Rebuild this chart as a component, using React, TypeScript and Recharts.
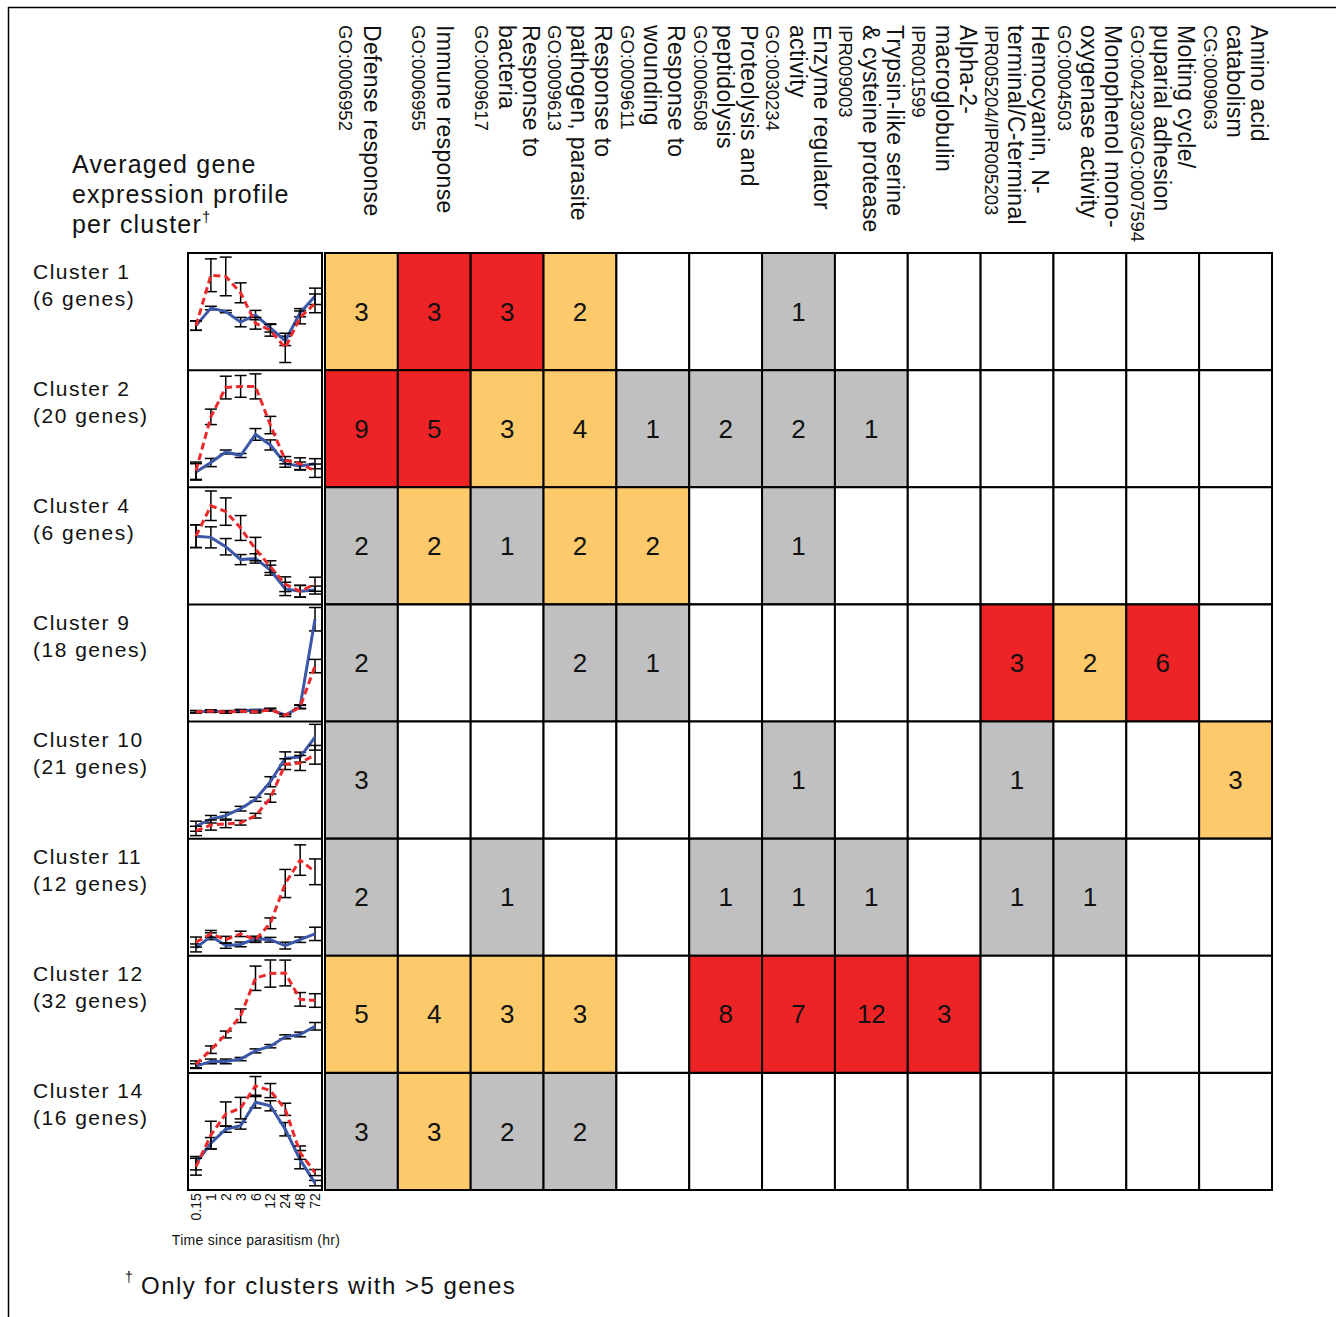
import React from "react";
import { BarChart, Bar, XAxis, YAxis, Cell, LabelList, LineChart, Line, ErrorBar } from "recharts";

const FONT = '"Liberation Sans", Arial, Helvetica, sans-serif';

// ---------- data ----------
const timePoints = ["0.15", "1", "2", "3", "6", "12", "24", "48", "72"];

const clusterNames = ["Cluster 1", "Cluster 2", "Cluster 4", "Cluster 9", "Cluster 10", "Cluster 11", "Cluster 12", "Cluster 14"];
const clusterSizes = ["(6 genes)", "(20 genes)", "(6 genes)", "(18 genes)", "(21 genes)", "(12 genes)", "(32 genes)", "(16 genes)"];

// averaged profiles (relative expression, 0-100 of panel height), blue solid series
const solidMeans = [
  [38, 53, 50, 41, 47, 36, 25, 49, 63],
  [13, 21, 30, 27, 45, 36, 20, 18, 20],
  [58, 57, 49, 38, 39, 29, 13, 11, 12],
  [8, 8.5, 8, 9, 9, 10, 5, 12.5, 87],
  [11, 17, 20, 26, 34, 49, 69, 70, 87],
  [7, 17, 9, 10, 15, 14, 9, 14, 19],
  [6, 10, 10, 12, 19, 23, 31, 33, 40],
  [23, 40, 52, 55, 75, 72, 52, 26, 6],
];
const solidErrs = [
  [4, 1.5, 1, 4, 4, 3.5, 4, 3.5, 7],
  [7, 3.5, 1.7, 1.7, 5, 4.3, 3, 3.4, 4.3],
  [9.7, 9, 7, 4.3, 4, 4.3, 5.7, 5, 3.4],
  [1, 1, 1, 1, 1, 1, 1, 1.5, 10],
  [4.3, 3.2, 2.9, 2, 1.7, 4.3, 5.5, 4.3, 11],
  [3.4, 2.9, 2.3, 2, 2, 2, 2.9, 2.3, 5.7],
  [2, 2, 2, 1.4, 1.7, 1.4, 1.7, 2, 3.2],
  [5.7, 4.9, 2.6, 2.9, 4.9, 4.3, 5.7, 7.8, 2.3],
];
// red dashed series
const dashedMeans = [
  [38, 81, 80, 66, 40, 34, 19, 45, 57],
  [14, 60, 85, 86, 86, 53, 23, 20, 14],
  [58, 84, 79, 65, 47, 32, 17, 11, 17],
  [8, 8.5, 7.7, 8.5, 8, 9.7, 5, 12, 47],
  [7, 12, 13, 14, 20, 35, 64, 65, 72],
  [12, 19, 14, 19, 14, 28, 62, 82, 72],
  [7.5, 20, 33, 49, 81, 85, 85.5, 63, 62],
  [20, 47, 65, 70, 89, 85, 69, 32, 15],
];
const dashedErrs = [
  [4, 14, 16.5, 8.5, 5, 5, 12.5, 5.5, 8],
  [7.4, 6.6, 9.7, 9.3, 10.7, 7.4, 3.1, 5, 5.7],
  [9.7, 12.6, 11.7, 10.6, 10, 5, 6.3, 5, 6],
  [1, 1, 1, 1, 1, 1, 1, 1.5, 5.7],
  [4, 4.3, 3.2, 2, 2, 3.5, 4.6, 6.4, 8],
  [4.3, 2.9, 2.9, 2.3, 2.3, 4.6, 12, 13, 11],
  [2.9, 3.2, 2.9, 5.8, 10.4, 11.6, 11, 5.8, 5.8],
  [7.2, 11.8, 10.3, 9.2, 8, 6, 5.2, 5.7, 2.6],
];

const goTermLines = [
  ["Defense response", "GO:0006952"],
  ["Immune response", "GO:0006955"],
  ["Response to", "bacteria", "GO:0009617"],
  ["Response to", "pathogen, parasite", "GO:0009613"],
  ["Response to", "wounding", "GO:0009611"],
  ["Proteolysis and", "peptidolysis", "GO:0006508"],
  ["Enzyme regulator", "activity", "GO:0030234"],
  ["Trypsin-like serine", "& cysteine protease", "IPR009003"],
  ["Alpha-2-", "macroglobulin", "IPR001599"],
  ["Hemocyanin, N-", "terminal/C-terminal", "IPR005204/IPR005203"],
  ["Monophenol mono-", "oxygenase activity", "GO:0004503"],
  ["Molting cycle/", "puparial adhesion", "GO:0042303/GO:0007594"],
  ["Amino acid", "catabolism", "CG:0009063"],
];

const termCounts = [
  [3, 3, 3, 2, 0, 0, 1, 0, 0, 0, 0, 0, 0],
  [9, 5, 3, 4, 1, 2, 2, 1, 0, 0, 0, 0, 0],
  [2, 2, 1, 2, 2, 0, 1, 0, 0, 0, 0, 0, 0],
  [2, 0, 0, 2, 1, 0, 0, 0, 0, 3, 2, 6, 0],
  [3, 0, 0, 0, 0, 0, 1, 0, 0, 1, 0, 0, 3],
  [2, 0, 1, 0, 0, 1, 1, 1, 0, 1, 1, 0, 0],
  [5, 4, 3, 3, 0, 8, 7, 12, 3, 0, 0, 0, 0],
  [3, 3, 2, 2, 0, 0, 0, 0, 0, 0, 0, 0, 0],
];
// 0 = none, 1 = gray, 2 = orange, 3 = red
const termLevels = [
  [2, 3, 3, 2, 0, 0, 1, 0, 0, 0, 0, 0, 0],
  [3, 3, 2, 2, 1, 1, 1, 1, 0, 0, 0, 0, 0],
  [1, 2, 1, 2, 2, 0, 1, 0, 0, 0, 0, 0, 0],
  [1, 0, 0, 1, 1, 0, 0, 0, 0, 3, 2, 3, 0],
  [1, 0, 0, 0, 0, 0, 1, 0, 0, 1, 0, 0, 2],
  [1, 0, 1, 0, 0, 1, 1, 1, 0, 1, 1, 0, 0],
  [2, 2, 2, 2, 0, 3, 3, 3, 3, 0, 0, 0, 0],
  [1, 2, 1, 1, 0, 0, 0, 0, 0, 0, 0, 0, 0],
];
const levelColors = ["#FFFFFF", "#C0C0C0", "#FCCA6A", "#EE2326"];

// ---------- layout ----------
const ROW_TOP = 253;
const ROWS = clusterNames.length;
const HEAT_H = 937;
const ROW_H = HEAT_H / ROWS;
const HEAT_LEFT = 325;
const HEAT_W = 947;
const COLS = goTermLines.length;
const COL_W = HEAT_W / COLS;
const PANEL_LEFT = 188;
const PANEL_W = 134;
const BLUE = "#3B57A7";
const RED = "#EC2A2C";

const heatRows = clusterNames.map((name, r) => {
  const row: any = { name };
  goTermLines.forEach((_, i) => {
    row[`c${i}`] = 1;
    row[`n${i}`] = termCounts[r][i] ? termCounts[r][i] : null;
  });
  return row;
});

const TimeTick = (props: any) => {
  const { x, y, payload } = props;
  return (
    <text
      x={x}
      y={y}
      transform={`rotate(-90, ${x}, ${y})`}
      textAnchor="end"
      dominantBaseline="central"
      fontSize={14}
      fontFamily={FONT}
      fill="#111"
    >
      {payload.value}
    </text>
  );
};

function Profile({ idx, showAxis }: { idx: number; showAxis: boolean }) {
  const data = timePoints.map((t, i) => ({
    t,
    s: solidMeans[idx][i],
    se: solidErrs[idx][i],
    d: dashedMeans[idx][i],
    de: dashedErrs[idx][i],
  }));
  const axisH = showAxis ? 34 : 0;
  const top = ROW_TOP + idx * ROW_H;
  return (
    <div style={{ position: "absolute", left: PANEL_LEFT, top, width: PANEL_W, height: ROW_H + axisH }}>
      <LineChart width={PANEL_W} height={ROW_H + axisH} data={data} margin={{ top: 0, right: 7, bottom: 0, left: 8 }}>
        <XAxis
          dataKey="t"
          scale="point"
          hide={!showAxis}
          height={axisH || 1}
          interval={0}
          tickLine={false}
          axisLine={false}
          tickSize={0}
          tickMargin={3}
          tick={<TimeTick />}
        />
        <YAxis type="number" domain={[0, 100]} hide allowDataOverflow />
        <Line dataKey="s" stroke={BLUE} strokeWidth={3} dot={false} isAnimationActive={false}>
          <ErrorBar dataKey="se" width={6} stroke="#000" strokeWidth={1.5} isAnimationActive={false} />
        </Line>
        <Line dataKey="d" stroke={RED} strokeWidth={3} strokeDasharray="7 4" dot={false} isAnimationActive={false}>
          <ErrorBar dataKey="de" width={6} stroke="#000" strokeWidth={1.5} isAnimationActive={false} />
        </Line>
      </LineChart>
    </div>
  );
}

export default function App() {
  return (
    <div
      style={{
        position: "absolute",
        left: 0,
        top: 0,
        width: 1336,
        height: 1317,
        background: "#fff",
        fontFamily: FONT,
        overflow: "hidden",
      }}
    >
      {/* heatmap */}
      <div style={{ position: "absolute", left: HEAT_LEFT - 1, top: ROW_TOP - 1 }}>
        <BarChart
          width={HEAT_W + 2}
          height={HEAT_H + 2}
          layout="vertical"
          data={heatRows}
          margin={{ top: 1, right: 1, bottom: 1, left: 1 }}
          barCategoryGap={0}
          barGap={0}
        >
          <XAxis type="number" domain={[0, COLS]} hide />
          <YAxis type="category" dataKey="name" hide />
          {goTermLines.map((_, i) => (
            <Bar key={i} dataKey={`c${i}`} stackId="h" stroke="#000" strokeWidth={2} isAnimationActive={false}>
              {heatRows.map((_, r) => (
                <Cell key={r} fill={levelColors[termLevels[r][i]]} />
              ))}
              <LabelList dataKey={`n${i}`} position="center" fill="#111" fontSize={26} fontFamily={FONT} />
            </Bar>
          ))}
        </BarChart>
      </div>

      {/* profiles */}
      {clusterNames.map((_, i) => (
        <Profile key={i} idx={i} showAxis={i === ROWS - 1} />
      ))}

      {/* overlay texts and frames */}
      <svg
        width={1336}
        height={1317}
        style={{ position: "absolute", left: 0, top: 0, pointerEvents: "none" }}
        fontFamily={FONT}
      >
        <line x1={8.5} y1={7} x2={8.5} y2={1317} stroke="#000" strokeWidth={1.5} />
        <line x1={8} y1={7.5} x2={1336} y2={7.5} stroke="#000" strokeWidth={1.5} />

        {/* title */}
        <g fontSize={25} fill="#111" letterSpacing={1.2}>
          <text x={72} y={164} dominantBaseline="central">Averaged gene</text>
          <text x={72} y={194} dominantBaseline="central">expression profile</text>
          <text x={72} y={224} dominantBaseline="central">
            per cluster
            <tspan fontSize={15} dy={-8}>†</tspan>
          </text>
        </g>

        {/* column headers */}
        {goTermLines.map((lines, i) => {
          const right = HEAT_LEFT + (i + 1) * COL_W;
          const offsets = lines.length === 3 ? [13, 37, 62] : [26, 52];
          return lines.map((ln, k) => {
            const x = right - offsets[k];
            const y = 25;
            const isId = k === lines.length - 1;
            return (
              <text
                key={`${i}-${k}`}
                x={x}
                y={y}
                transform={`rotate(90, ${x}, ${y})`}
                dominantBaseline="central"
                fontSize={isId ? 18.5 : 23}
                letterSpacing={isId ? 0 : 0.3}
                fill="#111"
              >
                {ln}
              </text>
            );
          });
        })}

        {/* cluster labels */}
        {clusterNames.map((name, i) => {
          const top = ROW_TOP + i * ROW_H;
          return (
            <g key={name} fontSize={21} letterSpacing={1.5} fill="#111">
              <text x={33} y={top + 18} dominantBaseline="central">{name}</text>
              <text x={33} y={top + 45} dominantBaseline="central">{clusterSizes[i]}</text>
            </g>
          );
        })}

        {/* profile panel frames */}
        <rect x={PANEL_LEFT} y={ROW_TOP} width={PANEL_W} height={HEAT_H} fill="none" stroke="#000" strokeWidth={2} />
        {clusterNames.slice(1).map((_, i) => (
          <line
            key={i}
            x1={PANEL_LEFT}
            x2={PANEL_LEFT + PANEL_W}
            y1={ROW_TOP + (i + 1) * ROW_H}
            y2={ROW_TOP + (i + 1) * ROW_H}
            stroke="#000"
            strokeWidth={2}
          />
        ))}

        {/* x-axis title */}
        <text x={256} y={1240} textAnchor="middle" dominantBaseline="central" fontSize={14} letterSpacing={0.3} fill="#111">
          Time since parasitism (hr)
        </text>

        {/* footnote */}
        <text x={125} y={1277} dominantBaseline="central" fontSize={14} fill="#111">†</text>
        <text x={141} y={1285} dominantBaseline="central" fontSize={24} letterSpacing={1.5} fill="#111">
          Only for clusters with &gt;5 genes
        </text>
      </svg>
    </div>
  );
}
